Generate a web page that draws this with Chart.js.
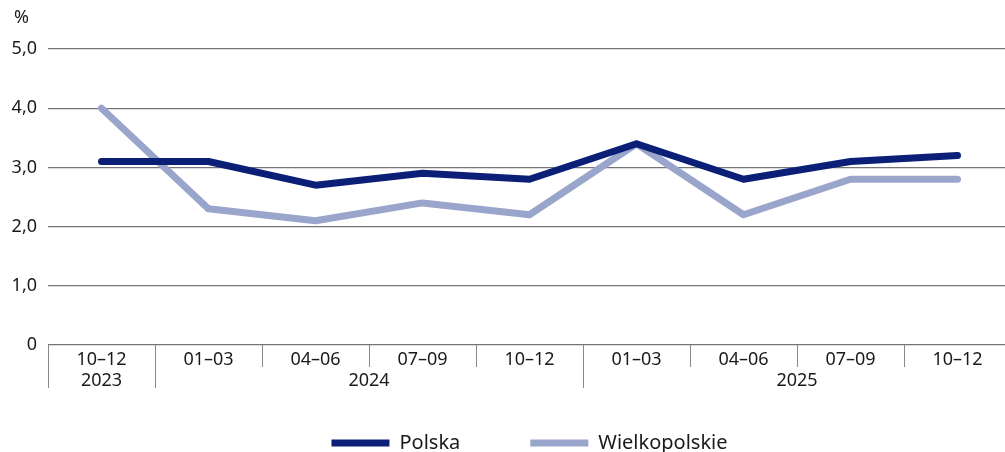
<!DOCTYPE html>
<html>
<head>
<meta charset="utf-8">
<script src="https://cdn.jsdelivr.net/npm/chart.js@4/dist/chart.umd.min.js"></script>
<style>
  html, body { margin: 0; padding: 0; overflow: hidden; background: #fff; }
  #wrap { width: 1012px; height: 452px; }
</style>
</head>
<body>
<div id="wrap"><canvas id="myChart"></canvas></div>
<script>
// data
let quarters = ['10–12', '01–03', '04–06', '07–09', '10–12', '01–03', '04–06', '07–09', '10–12'];
let years = ['2023', '2024', '2025'];
let yearStart = [0, 1, 5];   // first quarter index of each year
let yearEnd = [0, 4, 8];
let polska = [3.1, 3.1, 2.7, 2.9, 2.8, 3.4, 2.8, 3.1, 3.2];
let wielkopolskie = [4.0, 2.3, 2.1, 2.4, 2.2, 3.4, 2.2, 2.8, 2.8];
let yTicks = [0, 1, 2, 3, 4, 5];

let fontName = "'Noto Sans', sans-serif";
let textColor = '#1a1a1a';

// year labels, separators and % sign
let yearPlugin = {
  id: 'yearLabels',
  afterDraw(chart) {
    let ctx = chart.ctx;
    let x = chart.scales.x;
    let area = chart.chartArea;
    let half = (x.getPixelForValue(1) - x.getPixelForValue(0)) / 2;
    ctx.save();
    ctx.strokeStyle = '#8a8a8a';
    ctx.lineWidth = 1;
    for (let i = 0; i < quarters.length; i++) {
      let left = Math.round(x.getPixelForValue(i) - half) + 0.5;
      let long = yearStart.includes(i);
      ctx.beginPath();
      ctx.moveTo(left, area.bottom);
      ctx.lineTo(left, area.bottom + (long ? 43 : 22));
      ctx.stroke();
    }
    ctx.fillStyle = textColor;
    ctx.font = '18px ' + fontName;
    ctx.textAlign = 'center';
    ctx.textBaseline = 'middle';
    for (let j = 0; j < years.length; j++) {
      let cx = (x.getPixelForValue(yearStart[j]) + x.getPixelForValue(yearEnd[j])) / 2;
      ctx.fillText(years[j], cx, area.bottom + 36);
    }
    ctx.textAlign = 'left';
    ctx.fillText('%', 14, 18);
    ctx.restore();
  }
};

let ctx = document.getElementById('myChart').getContext('2d');
let myChart = new Chart(ctx, {
  type: 'line',
  data: {
    labels: quarters,
    datasets: [{
      label: 'Polska',
      data: polska,
      borderColor: '#0b1f77',
      backgroundColor: '#0b1f77',
      borderWidth: 7,
      borderCapStyle: 'round',
      borderJoinStyle: 'round',
      pointRadius: 0,
      tension: 0
    },
    {
      label: 'Wielkopolskie',
      data: wielkopolskie,
      borderColor: '#9aa5cb',
      backgroundColor: '#9aa5cb',
      borderWidth: 7,
      borderCapStyle: 'round',
      borderJoinStyle: 'round',
      pointRadius: 0,
      tension: 0
    }]
  },
  options: {
    responsive: true,
    maintainAspectRatio: false,
    animation: false,
    layout: { padding: { top: 49, right: 1, left: 0, bottom: -11 } },
    plugins: {
      tooltip: { enabled: false },
      legend: {
        position: 'bottom',
        fullSize: false,
        labels: {
          usePointStyle: true,
          pointStyle: 'line',
          pointStyleWidth: 58,
          boxHeight: 20,
          padding: 20,
          color: textColor,
          font: { family: fontName, size: 20 },
          generateLabels(chart) {
            let items = Chart.defaults.plugins.legend.labels.generateLabels(chart);
            // wider gap after the first item
            items[0].text = items[0].text + '\u2003\u2003\u2002';
            return items;
          }
        }
      }
    },
    scales: {
      x: {
        offset: true,
        grid: { display: false, drawTicks: false },
        border: { display: false },
        ticks: {
          color: textColor,
          padding: 4,
          maxRotation: 0,
          autoSkip: false,
          font: { family: fontName, size: 18 }
        },
        afterFit(scale) { scale.height = 68; }
      },
      y: {
        min: 0,
        max: 5,
        afterBuildTicks(scale) { scale.ticks = yTicks.map(v => ({ value: v })); },
        grid: { color: '#767676', lineWidth: 1.3, drawTicks: false },
        border: { display: false },
        ticks: {
          color: textColor,
          padding: 11,
          font: { family: fontName, size: 18 },
          callback: v => v === 0 ? '0' : v.toFixed(1).replace('.', ',')
        },
        afterFit(scale) { scale.width = 48; }
      }
    }
  },
  plugins: [yearPlugin]
});
</script>
</body>
</html>
